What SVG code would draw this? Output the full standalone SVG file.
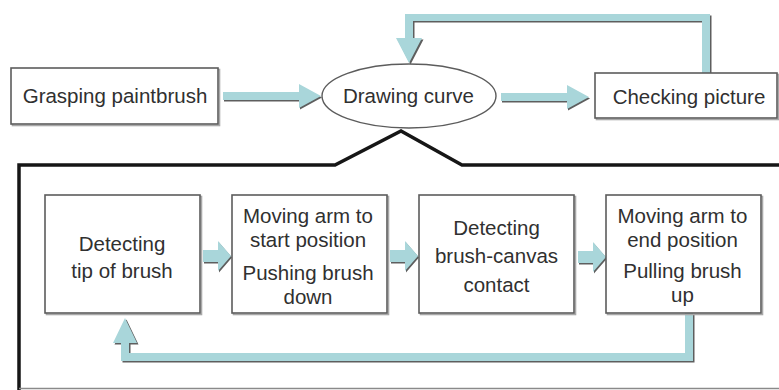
<svg xmlns="http://www.w3.org/2000/svg" width="779" height="390" viewBox="0 0 779 390">
  <style>
    .box { fill: #ffffff; stroke: #5c5c5c; stroke-width: 1.6; }
    .box-shadow { fill: none; stroke: #a8a8a8; stroke-width: 1.6; }
    .label { font-family: "Liberation Sans", Arial, Helvetica, sans-serif; font-size: 20.5px; fill: #303030; text-anchor: middle; }
    .arrow-shadow { fill: #5e5e5e; }
    .arrow-fill { fill: #a9d6da; }
    .frame { fill: none; stroke: #161616; stroke-width: 3.5; stroke-linejoin: miter; }
  </style>
  <defs>
    <!-- block arrows: dark offset copy underneath, teal body on top -->
    <polygon id="arrow-grasp-draw" points="223,92 299,92 299,84 321,96 299,108 299,100 223,100"/>
    <polygon id="arrow-draw-check" points="501,93 567,93 567,85 589,97 567,109 567,101 501,101"/>
    <polygon id="arrow-check-draw" points="702,73 702,21 413,21 413,38 422,38 409,63 396,38 405,38 405,14 710,14 710,73"/>
    <polygon id="arrow-tip-start" points="203,250 218,250 218,241 231,256 218,271 218,262 203,262"/>
    <polygon id="arrow-start-contact" points="390,250 405,250 405,241 418,256 405,271 405,262 390,262"/>
    <polygon id="arrow-contact-end" points="578,251 593,251 593,242 606,257 593,272 593,263 578,263"/>
    <polygon id="arrow-end-tip" points="685,313 693,313 693,361 121,361 121,343 113,343 125,318 137,343 129,343 129,353 685,353"/>
  </defs>

  <!-- outline of the expanded detail for the drawing step -->
  <g id="detail-frame">
    <path class="frame" d="M19,390 L19,165 L335,165 L401,131 L462,165 L781,165"/>
    <line x1="19" y1="388.5" x2="779" y2="388.5" stroke="#8a8a8a" stroke-width="1.5"/>
  </g>

  <g id="connectors">
    <use href="#arrow-grasp-draw" class="arrow-shadow" transform="translate(1,1.5)"/>
    <use href="#arrow-grasp-draw" class="arrow-fill"/>
    <use href="#arrow-draw-check" class="arrow-shadow" transform="translate(1,1.5)"/>
    <use href="#arrow-draw-check" class="arrow-fill"/>
    <use href="#arrow-check-draw" class="arrow-shadow" transform="translate(1.5,1.5)"/>
    <use href="#arrow-check-draw" class="arrow-fill"/>
    <use href="#arrow-tip-start" class="arrow-shadow" transform="translate(1,1.5)"/>
    <use href="#arrow-tip-start" class="arrow-fill"/>
    <use href="#arrow-start-contact" class="arrow-shadow" transform="translate(1,1.5)"/>
    <use href="#arrow-start-contact" class="arrow-fill"/>
    <use href="#arrow-contact-end" class="arrow-shadow" transform="translate(1,1.5)"/>
    <use href="#arrow-contact-end" class="arrow-fill"/>
    <use href="#arrow-end-tip" class="arrow-shadow" transform="translate(1.5,1.5)"/>
    <use href="#arrow-end-tip" class="arrow-fill"/>
  </g>

  <g id="grasping-paintbrush">
    <rect class="box-shadow" x="12.5" y="69.5" width="207" height="56"/>
    <rect class="box" x="11" y="68" width="207" height="56"/>
    <text class="label" x="115" y="103">Grasping paintbrush</text>
  </g>

  <g id="drawing-curve">
    <ellipse cx="409" cy="96" rx="87" ry="32" fill="#ffffff" stroke="#5c5c5c" stroke-width="1.4"/>
    <text class="label" x="408.5" y="103">Drawing curve</text>
  </g>

  <g id="checking-picture">
    <rect class="box-shadow" x="596.5" y="74.5" width="182" height="45"/>
    <rect class="box" x="595" y="73" width="182" height="45"/>
    <text class="label" x="689" y="104">Checking picture</text>
  </g>

  <g id="detecting-tip">
    <rect class="box-shadow" x="46.5" y="196.5" width="155" height="118"/>
    <rect class="box" x="45" y="195" width="155" height="118"/>
    <text class="label" x="122" y="251">Detecting</text>
    <text class="label" x="122" y="278">tip of brush</text>
  </g>

  <g id="moving-to-start">
    <rect class="box-shadow" x="233.5" y="196.5" width="155" height="118"/>
    <rect class="box" x="232" y="195" width="155" height="118"/>
    <text class="label" x="308" y="223">Moving arm to</text>
    <text class="label" x="308" y="247">start position</text>
    <text class="label" x="308" y="280">Pushing brush</text>
    <text class="label" x="308" y="304">down</text>
  </g>

  <g id="detecting-contact">
    <rect class="box-shadow" x="420.5" y="196.5" width="155" height="118"/>
    <rect class="box" x="419" y="195" width="155" height="118"/>
    <text class="label" x="496.5" y="235">Detecting</text>
    <text class="label" x="496.5" y="263">brush-canvas</text>
    <text class="label" x="496.5" y="292">contact</text>
  </g>

  <g id="moving-to-end">
    <rect class="box-shadow" x="607.5" y="196.5" width="155" height="118"/>
    <rect class="box" x="606" y="195" width="155" height="118"/>
    <text class="label" x="682.5" y="223">Moving arm to</text>
    <text class="label" x="682.5" y="247">end position</text>
    <text class="label" x="682.5" y="278">Pulling brush</text>
    <text class="label" x="682.5" y="302">up</text>
  </g>
</svg>
